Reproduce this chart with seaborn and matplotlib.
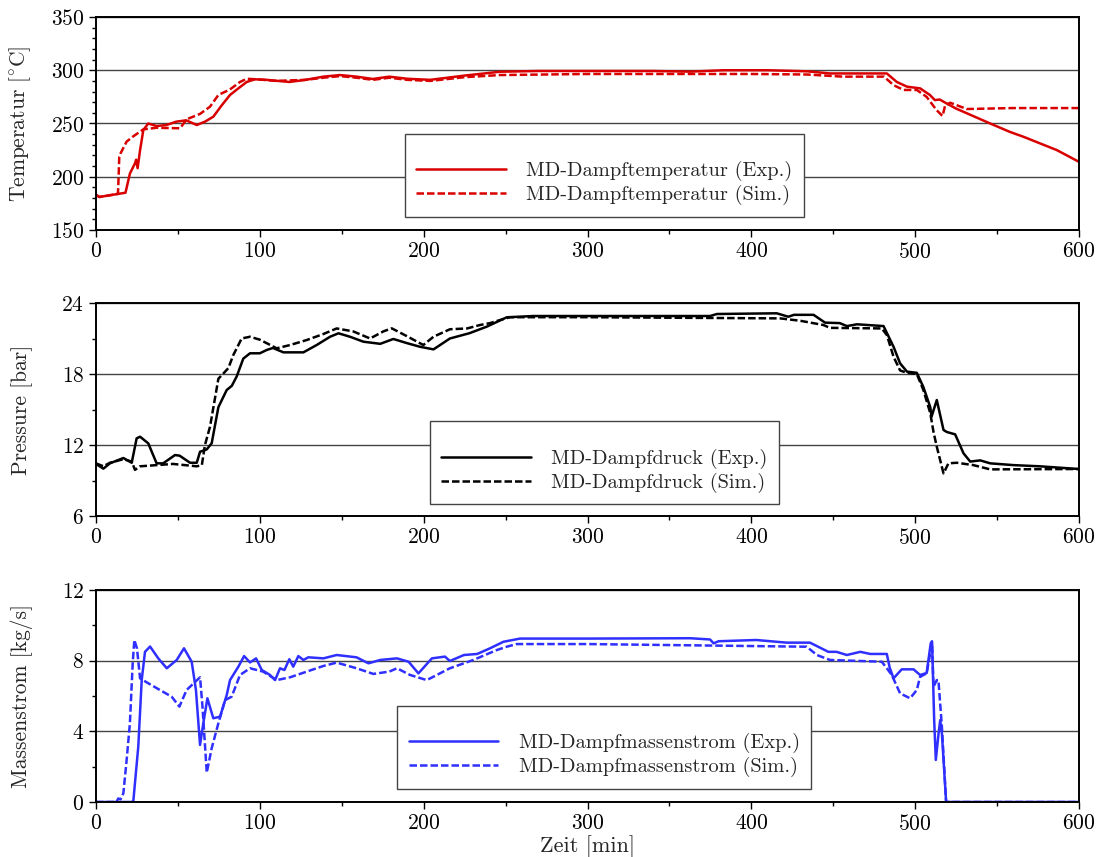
import matplotlib
matplotlib.use("Agg")
import matplotlib.pyplot as plt
from matplotlib.ticker import MultipleLocator
import seaborn as sns

# --- Temperatur [°C] ---
t_temp_exp = [0, 2, 8, 18, 20.7, 23.8, 24.5, 25.4, 26.9, 28.9, 31.9, 37, 43, 49, 55, 61.5, 66.5,
              71.6, 76.7, 81.8, 86.9, 92, 97, 104, 118, 128, 138.8, 149, 159, 169, 179, 190,
              204, 225, 246.6, 270, 300, 340, 362.6, 383, 410, 434, 448, 470, 482.7, 488.8,
              495, 503, 509, 512, 515, 519, 525, 545.8, 558, 566, 586.5, 600]
temp_exp = [183, 181, 182.5, 185, 203, 212.6, 216, 208, 225, 244, 250, 247.6, 248.6, 251.7, 253,
            248.6, 251.7, 256.4, 267, 276.8, 283, 289, 291.5, 291, 289, 291, 294, 295.5, 294,
            291.8, 294, 292, 291, 295, 298.6, 299.3, 299.3, 299.3, 298.7, 300, 300, 299, 297,
            297, 297, 289, 284.6, 283, 276.8, 272, 272.5, 269, 264, 250, 242, 237.6, 225, 214]

t_temp_sim = [0, 2, 8, 13.4, 13.8, 14.2, 15, 18.7, 22.8, 28.9, 37, 51.3, 55.4, 63.5, 69.6, 74.7,
              81.8, 87.9, 92, 98, 110, 128, 138.8, 149, 159, 169, 179, 190, 204, 225, 246.6,
              300, 400, 434, 456, 481, 486.8, 493, 501, 507, 513, 516.7, 518.3, 521.4, 531.5,
              560, 600]
temp_sim = [183, 181, 182.5, 184, 200, 218.8, 222, 233, 238, 244.5, 246, 245.5, 254, 259, 265.8,
            276.8, 282, 289, 292, 291.5, 290, 291, 293, 294.5, 293, 291, 293, 291, 290, 293.5,
            295.5, 296.5, 296.5, 296, 294, 294, 286, 281.5, 281.5, 275, 262.7, 257, 267, 269.5,
            263.6, 264.5, 264.5]

# --- Druck [bar] ---
t_p_exp = [0, 4.5, 8.5, 16.7, 21.8, 24.8, 26.9, 31.9, 37, 41, 48.2, 51, 57.4, 61.5, 63.5, 67.6,
           70.6, 74.7, 79.8, 82.9, 85.9, 89.9, 94, 100, 104.2, 108, 114.4, 126.6, 134.7, 142.9,
           148, 155, 163.2, 173.5, 181.5, 190, 197.8, 206, 216, 228, 238.5, 250.7, 267, 300,
           374.8, 379, 415.5, 422.6, 426, 438, 445, 454, 458.3, 464.5, 480.7, 486.8, 490.8,
           495, 501, 505, 509.2, 510, 513.2, 517.3, 519.3, 524.4, 529.5, 533.6, 539.7, 545.8,
           560, 576, 600]
p_exp = [10.4, 10.0, 10.45, 10.9, 10.5, 12.56, 12.7, 12.14, 10.45, 10.45, 11.15, 11.1, 10.5, 10.5,
         11.43, 11.63, 12.14, 15.2, 16.65, 17.0, 17.8, 19.3, 19.75, 19.75, 20.03, 20.2, 19.83,
         19.83, 20.45, 21.15, 21.44, 21.15, 20.73, 20.55, 20.96, 20.6, 20.3, 20.08, 21.0, 21.45,
         22.0, 22.79, 22.9, 22.9, 22.9, 23.07, 23.13, 22.84, 23.0, 23.0, 22.34, 22.3, 22.05, 22.2,
         22.05, 20.3, 18.9, 18.2, 18.1, 16.9, 15.2, 14.4, 15.8, 13.27, 13.1, 12.9, 11.3, 10.6,
         10.7, 10.45, 10.3, 10.2, 9.97]

t_p_sim = [0, 4.5, 8.5, 16.7, 21.8, 23.8, 26.9, 37, 47, 61.5, 64.6, 66.5, 69.6, 74.7, 78.8, 80.8,
           83.8, 88.9, 94, 100, 110.3, 118.5, 128.6, 138.8, 146.9, 157, 167.3, 175.4, 180.5,
           189.7, 199.8, 206, 216, 226.5, 234.4, 240.5, 246.6, 252.7, 300, 417.6, 429.8, 444,
           448, 479.6, 482.7, 486.8, 490.8, 495, 501, 505, 509.2, 511.2, 513.2, 517.3, 520.3,
           525.4, 535.5, 545.8, 600]
p_sim = [10.45, 10.2, 10.5, 10.8, 10.6, 9.9, 10.2, 10.3, 10.4, 10.2, 10.3, 12.0, 13.55, 17.6, 18.2,
         18.5, 19.6, 21.0, 21.15, 20.9, 20.17, 20.45, 20.87, 21.38, 21.85, 21.6, 21.0, 21.6, 21.86,
         21.2, 20.45, 21.15, 21.78, 21.85, 22.14, 22.3, 22.56, 22.8, 22.8, 22.7, 22.5, 22.14,
         21.9, 21.85, 21.3, 19.46, 18.3, 18.1, 18.0, 16.65, 14.7, 13.1, 11.85, 9.6, 10.45, 10.5,
         10.3, 9.94, 9.97]

# --- Massenstrom [kg/s] ---
t_m_exp = [0, 22, 22.8, 25.8, 27.9, 29.9, 33, 38, 43.2, 49.3, 53.7, 58.4, 61, 63.5, 65.5, 68,
           71.6, 75.7, 79.8, 81.8, 86.9, 90.4, 94, 97.7, 101.2, 106.2, 109.3, 112.3, 115, 118,
           120.4, 123.5, 126.6, 129.6, 138.8, 146.9, 159, 166.3, 173.5, 183.7, 190.8, 196.8, 205,
           213, 216, 224.6, 232.7, 240.5, 248.7, 258.8, 300, 362.6, 374.8, 377, 380, 403, 421.6,
           435.8, 447, 452, 458.3, 466.5, 472.6, 482.7, 484.4, 486.8, 491.8, 499, 503, 507,
           509.5, 510.3, 511.6, 512.6, 514.3, 515.3, 516.3, 518.9, 600]
m_exp = [0, 0, 0.07, 3.13, 6.9, 8.5, 8.8, 8.13, 7.57, 8.04, 8.7, 7.94, 6.34, 3.23, 4.46, 5.87,
         4.74, 4.83, 6.06, 6.9, 7.66, 8.26, 7.9, 8.13, 7.47, 7.19, 6.9, 7.57, 7.47, 8.08, 7.66,
         8.26, 8.04, 8.19, 8.13, 8.32, 8.19, 7.85, 8.04, 8.13, 7.94, 7.28, 8.13, 8.23, 7.98,
         8.32, 8.38, 8.7, 9.07, 9.25, 9.25, 9.27, 9.2, 8.98, 9.1, 9.17, 9.02, 9.02, 8.5, 8.5,
         8.32, 8.5, 8.38, 8.38, 7.62, 7.0, 7.51, 7.51, 7.19, 7.3, 8.98, 9.1, 4.64, 2.38, 3.89,
         4.64, 3.9, 0.0, 0.0]

t_m_sim = [0, 12.5, 13.6, 15, 16.7, 18.7, 20.7, 22.4, 23.4, 25, 26.9, 31.9, 39, 46.2, 50.9, 55.3,
           63.5, 65, 67.6, 70.6, 74.7, 78.8, 82.8, 87.9, 94, 102, 110.3, 118.5, 128.6, 138.8,
           146.9, 159, 169.3, 179, 183.7, 191.7, 201.9, 216, 230.3, 244.6, 250.7, 256.8, 300,
           433.8, 440, 448, 479.6, 482.7, 485.7, 490.8, 496.9, 501, 503, 507, 510.3, 511.2,
           513.2, 514.2, 516.3, 518.9, 600]
m_sim = [0, 0, 0.2, 0.15, 0.49, 2.38, 4.46, 7.85, 9.17, 8.7, 7.0, 6.72, 6.34, 5.96, 5.4, 6.34,
         7.06, 5.4, 1.66, 3.04, 4.46, 5.77, 5.96, 7.19, 7.57, 7.38, 6.9, 7.06, 7.38, 7.7, 7.89,
         7.57, 7.25, 7.38, 7.57, 7.19, 6.9, 7.57, 8.04, 8.6, 8.79, 8.94, 8.94, 8.79, 8.32, 8.04,
         7.94, 7.57, 7.19, 6.15, 5.87, 6.34, 7.09, 7.28, 9.0, 6.53, 6.9, 6.9, 4.27, 0.0, 0.0]

labels_temp = ["MD-Dampftemperatur (Exp.)", "MD-Dampftemperatur (Sim.)"]
labels_p = ["MD-Dampfdruck (Exp.)", "MD-Dampfdruck (Sim.)"]
labels_m = ["MD-Dampfmassenstrom (Exp.)", "MD-Dampfmassenstrom (Sim.)"]

sns.set_style("white")
plt.rcParams.update({
    "font.family": "serif",
    "font.serif": ["cmr10", "DejaVu Serif"],
    "mathtext.fontset": "cm",
    "axes.formatter.use_mathtext": True,
    "font.size": 15,
    "axes.linewidth": 1.4,
    "xtick.direction": "out",
    "ytick.direction": "out",
    "xtick.major.size": 5,
    "ytick.major.size": 5,
    "xtick.minor.size": 3,
    "ytick.minor.size": 3,
    "xtick.bottom": True,
    "ytick.left": True,
})

fig = plt.figure(figsize=(11.05, 8.57), dpi=100)
W, H = 1105, 857
def axes_box(top_px, bottom_px):
    return [96 / W, 1 - bottom_px / H, 983 / W, (bottom_px - top_px) / H]

ax_t = fig.add_axes(axes_box(17, 230))
ax_p = fig.add_axes(axes_box(303, 516))
ax_m = fig.add_axes(axes_box(590, 802))

RED = "#d90000"
BLUE = "#2f2fff"
BLACK = "#000000"
DASH = (0, (3.0, 1.2))

def draw(ax, tx, yx, ts, ys, color, labels):
    sns.lineplot(x=tx, y=yx, ax=ax, color=color, lw=1.8, label=labels[0],
                 estimator=None, sort=False)
    sns.lineplot(x=ts, y=ys, ax=ax, color=color, lw=1.8, linestyle=DASH, label=labels[1],
                 estimator=None, sort=False)

draw(ax_t, t_temp_exp, temp_exp, t_temp_sim, temp_sim, RED, labels_temp)
draw(ax_p, t_p_exp, p_exp, t_p_sim, p_sim, BLACK, labels_p)
draw(ax_m, t_m_exp, m_exp, t_m_sim, m_sim, BLUE, labels_m)

settings = [
    (ax_t, (150, 350), 50, 10, r"Temperatur [$^{\circ}$C]", (0.517, 0.258)),
    (ax_p, (6, 24), 6, 3, "Pressure [bar]", (0.517, 0.250)),
    (ax_m, (0, 12), 4, 2, "Massenstrom [kg/s]", (0.517, 0.259)),
]
for ax, ylim, major, minor, ylabel, anchor in settings:
    ax.set_xlim(0, 600)
    ax.set_ylim(*ylim)
    ax.xaxis.set_major_locator(MultipleLocator(100))
    ax.xaxis.set_minor_locator(MultipleLocator(50))
    ax.yaxis.set_major_locator(MultipleLocator(major))
    ax.yaxis.set_minor_locator(MultipleLocator(minor))
    ax.grid(axis="y", which="major", color="#444444", lw=1.0)
    ax.grid(axis="x", visible=False)
    ax.set_axisbelow(True)
    ax.set_ylabel(ylabel, fontsize=15.5)
    ax.set_xlabel("")
    ax.tick_params(axis="both", which="both", labelsize=15.5, width=1.0, colors="black")
    for sp in ax.spines.values():
        sp.set_color("black")
        sp.set_visible(True)
    leg = ax.legend(loc="center", bbox_to_anchor=anchor, title=" ", title_fontsize=9,
                    fontsize=14.7, frameon=True, fancybox=False, framealpha=1,
                    edgecolor="#444444", handlelength=4.4, handletextpad=1.0,
                    borderpad=0.55, labelspacing=0.2)
    leg.get_frame().set_linewidth(1.0)

ax_m.set_xlabel("Zeit [min]", fontsize=16, labelpad=1)
for ax in (ax_t, ax_p, ax_m):
    ax.yaxis.set_label_coords(-0.064, 0.5)

fig.savefig("out.png", dpi=100)
